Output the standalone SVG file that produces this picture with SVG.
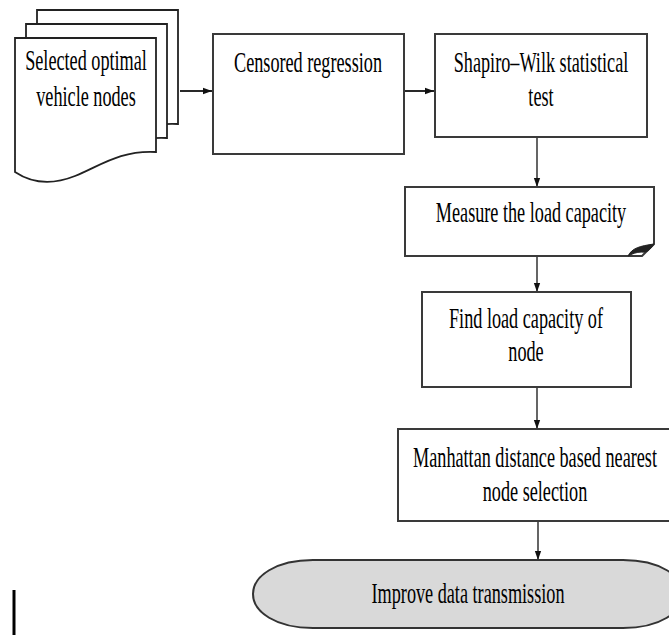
<svg xmlns="http://www.w3.org/2000/svg" width="669" height="635" viewBox="0 0 669 635">
<style>
.box{fill:#fff;stroke:#3a3a3a;stroke-width:2}
.doc{fill:#fff;stroke:#222;stroke-width:1.8}
.term{fill:#d9d9d9;stroke:#333;stroke-width:2}
.t{font-family:"Liberation Serif","Times New Roman",serif;font-size:18.2px;fill:#000;text-anchor:middle}
.c{stroke:#555;stroke-width:1.8;fill:none}
.ch{stroke:#111;stroke-width:1.8;fill:none}
</style>
<defs>
<marker id="ah" viewBox="0 0 10 10" refX="10" refY="5" markerWidth="5" markerHeight="5" orient="auto" markerUnits="userSpaceOnUse">
<path d="M0,0 L10,5 L0,10 Z" fill="#111"/>
</marker>
<marker id="av" viewBox="0 0 10 10" refX="10" refY="5" markerWidth="9" markerHeight="9" orient="auto" markerUnits="userSpaceOnUse">
<path d="M0,1.5 L10,5 L0,8.5 Z" fill="#111"/>
</marker>
</defs>

<g id="connectors">
<line class="ch" x1="180" y1="91" x2="212" y2="91" marker-end="url(#av)"/>
<line class="ch" x1="404" y1="91" x2="434" y2="91" marker-end="url(#av)"/>
<line class="c" x1="537" y1="137" x2="537" y2="187" marker-end="url(#av)"/>
<line class="c" x1="537" y1="256" x2="537" y2="292" marker-end="url(#av)"/>
<line class="c" x1="537" y1="387" x2="537" y2="429" marker-end="url(#av)"/>
<line class="c" x1="538" y1="521" x2="538" y2="560" marker-end="url(#av)"/>
</g>

<g id="node-selected">
<path class="doc" d="M37,10 H178 V124 C142,122 122,138 97,148 C72,158 52,154 37,144 Z"/>
<path class="doc" d="M26,24 H167 V138 C131,136 111,152 86,162 C61,172 41,168 26,158 Z"/>
<path class="doc" d="M15,38 H156 V152 C120,150 100,166 75,176 C50,186 30,182 15,172 Z"/>
<text class="t" transform="matrix(1,0,0,1.65,86,70)">Selected optimal</text>
<text class="t" transform="matrix(1,0,0,1.65,86,106)">vehicle nodes</text>
</g>

<g id="node-censored">
<rect class="box" x="213" y="34" width="191" height="120"/>
<text class="t" transform="matrix(1,0,0,1.65,308,72)">Censored regression</text>
</g>

<g id="node-shapiro">
<rect class="box" x="435" y="34" width="212" height="103"/>
<text class="t" transform="matrix(1,0,0,1.65,541,72)">Shapiro–Wilk statistical</text>
<text class="t" transform="matrix(1,0,0,1.65,541,106)">test</text>
</g>

<g id="node-measure">
<path class="box" d="M405,187 H654 V244 L642,256 H405 Z"/>
<path d="M628,256 C632,248 640,246 654,244 C650,250 646,253 642,252 C636,252 632,254 628,256 Z" fill="#222" stroke="#222" stroke-width="1"/>
<text class="t" transform="matrix(1,0,0,1.65,531,222)">Measure the load capacity</text>
</g>

<g id="node-find">
<rect class="box" x="422" y="292" width="209" height="95"/>
<text class="t" transform="matrix(1,0,0,1.65,526,328)">Find load capacity of</text>
<text class="t" transform="matrix(1,0,0,1.65,526,361)">node</text>
</g>

<g id="node-manhattan">
<rect class="box" x="398" y="429" width="280" height="92"/>
<text class="t" transform="matrix(1,0,0,1.65,535,467)">Manhattan distance based nearest</text>
<text class="t" transform="matrix(1,0,0,1.65,535,501)">node selection</text>
</g>

<g id="node-improve">
<path class="term" d="M313,560 H623 C660,560 683,576 683,594 C683,612 660,628 623,628 H313 C276,628 253,612 253,594 C253,576 276,560 313,560 Z"/>
<text class="t" transform="matrix(1,0,0,1.65,468,603)">Improve data transmission</text>
</g>

<line x1="14" y1="590" x2="14" y2="635" stroke="#000" stroke-width="3"/>
</svg>
